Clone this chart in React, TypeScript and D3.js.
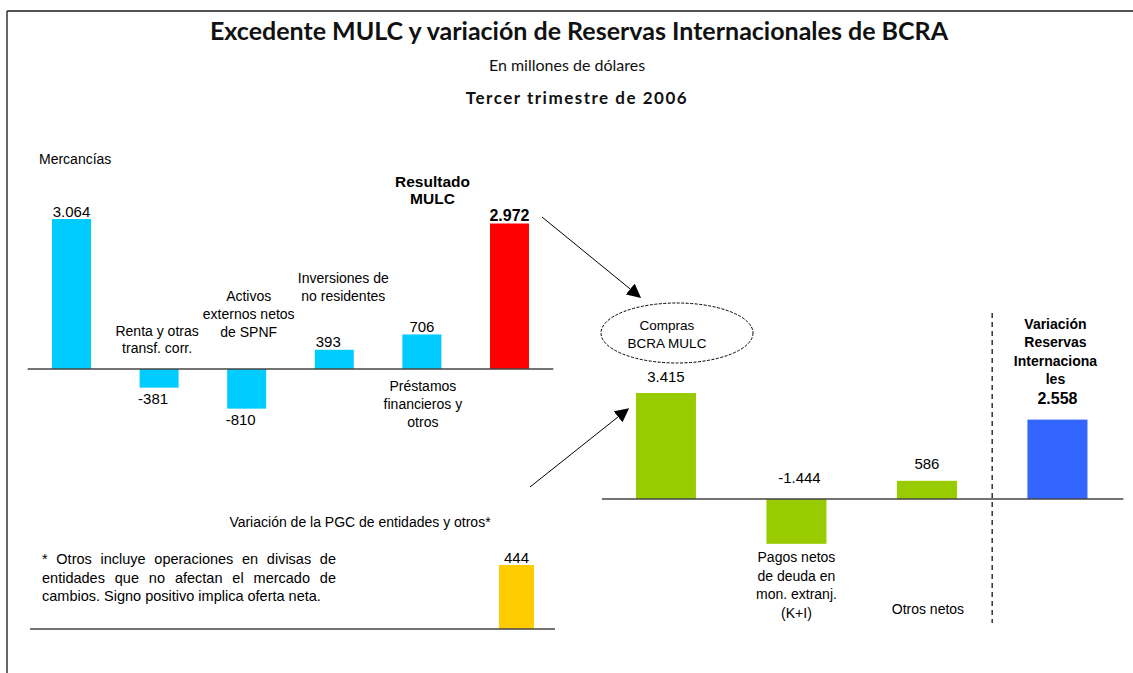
import { useEffect, useRef } from 'react';
import * as d3 from 'd3';

// Panel 1: origen del excedente MULC
const mulcKeys = ['merc', 'renta', 'activos', 'inversiones', 'prestamos', 'resultado'];
const mulcValues = [3064, -381, -810, 393, 706, 2972];
const mulcLabels = ['3.064', '-381', '-810', '393', '706', '2.972'];

// Panel 2: de compras BCRA a variación de reservas
const resKeys = ['compras', 'pagos', 'otros', 'reservas'];
const resValues = [3415, -1444, 586, 2558];
const resLabels = ['3.415', '-1.444', '586', '2.558'];

// Panel 3: PGC de entidades
const pgcKeys = ['pgc'];
const pgcValues = [444];
const pgcLabels = ['444'];

const CYAN = '#00ccff';
const RED = '#ff0000';
const GREEN = '#99cc00';
const BLUE = '#3366ff';
const YELLOW = '#ffcc00';

const SANS = '"Liberation Sans", Arial, sans-serif';
const TITLE_FONT = 'Lato, "Open Sans", sans-serif';

const App = () => {
  const svgRef = useRef(null);
  const width = 1133;
  const height = 673;

  useEffect(() => {
    const svg = d3.select(svgRef.current);
    svg.selectAll('*').remove();

    // frame
    svg.append('line').attr('x1', 7).attr('x2', width).attr('y1', 11).attr('y2', 11)
      .attr('stroke', '#555').attr('stroke-width', 2);
    svg.append('line').attr('x1', 7).attr('x2', 7).attr('y1', 11).attr('y2', height)
      .attr('stroke', '#333').attr('stroke-width', 1.5);

    // titles
    svg.append('text').attr('x', 579).attr('y', 40).attr('text-anchor', 'middle')
      .style('font-family', TITLE_FONT).style('font-size', '25px').style('font-weight', 'bold')
      .attr('fill', '#111')
      .text('Excedente MULC y variación de Reservas Internacionales de BCRA');
    svg.append('text').attr('x', 567).attr('y', 71).attr('text-anchor', 'middle')
      .style('font-family', TITLE_FONT).style('font-size', '16px').attr('fill', '#111')
      .text('En millones de dólares');
    svg.append('text').attr('x', 577).attr('y', 104).attr('text-anchor', 'middle')
      .style('font-family', TITLE_FONT).style('font-size', '17px').style('font-weight', 'bold')
      .style('letter-spacing', '1.5px')
      .attr('fill', '#111')
      .text('Tercer trimestre de 2006');

    const label = (x, y, txt, opts = {}) => {
      const t = svg.append('text')
        .attr('x', x).attr('y', y)
        .attr('text-anchor', opts.anchor || 'middle')
        .attr('dominant-baseline', 'central')
        .style('font-family', SANS)
        .style('font-size', (opts.size || 14) + 'px')
        .style('font-weight', opts.bold ? 'bold' : 'normal')
        .attr('fill', '#000')
        .text(txt);
      if (opts.justify) {
        // spread the words so the line fills the given width
        const w = t.node().getComputedTextLength();
        const gaps = txt.split(' ').length - 1;
        if (gaps > 0) t.style('word-spacing', ((opts.justify - w) / gaps) + 'px');
      }
      return t;
    };
    const lines = (x, y0, dy, arr, opts = {}) =>
      arr.forEach((s, i) => label(x, y0 + i * dy, s, opts));

    // ---------- Panel 1 ----------
    const x1 = d3.scaleBand().domain(mulcKeys).range([27.7, 553.3])
      .paddingInner(0.555).paddingOuter(0.2775);
    const y1 = d3.scaleLinear().domain([0, 3064]).range([369, 219]);
    const c1 = (k) => x1(k) + x1.bandwidth() / 2;

    svg.append('g').selectAll('rect').data(mulcKeys).enter().append('rect')
      .attr('x', (k) => x1(k))
      .attr('width', x1.bandwidth())
      .attr('y', (k, i) => y1(Math.max(0, mulcValues[i])))
      .attr('height', (k, i) => Math.abs(y1(mulcValues[i]) - y1(0)))
      .attr('fill', (k) => (k === 'resultado' ? RED : CYAN));

    svg.append('line').attr('x1', x1.range()[0]).attr('x2', x1.range()[1])
      .attr('y1', y1(0)).attr('y2', y1(0)).attr('stroke', '#444').attr('stroke-width', 1.5);

    mulcKeys.forEach((k, i) => {
      const v = mulcValues[i];
      const bold = k === 'resultado';
      const y = v >= 0 ? y1(v) - 8 : y1(v) + 11;
      label(c1(k) - (v < 0 || k === 'inversiones' ? 6 : 0), y, mulcLabels[i], { size: bold ? 16 : 15, bold });
    });

    label(39, 159, 'Mercancías', { anchor: 'start', size: 14 });
    lines(c1('renta') - 2, 331, 17, ['Renta y otras', 'transf. corr.']);
    lines(c1('activos') + 2, 296, 18, ['Activos', 'externos netos', 'de SPNF']);
    lines(c1('inversiones') + 9, 278, 18, ['Inversiones de', 'no residentes']);
    lines(c1('prestamos') + 1, 386, 18, ['Préstamos', 'financieros y', 'otros']);
    lines(c1('resultado') - 77, 181, 17, ['Resultado', 'MULC'], { bold: true, size: 15.5 });

    // ---------- Panel 2 ----------
    const x2 = d3.scaleBand().domain(resKeys).range([602, 1121.4])
      .paddingInner(0.54).paddingOuter(0.26);
    const y2 = d3.scaleLinear().domain([0, 3415]).range([499, 393]);
    const c2 = (k) => x2(k) + x2.bandwidth() / 2;

    svg.append('g').selectAll('rect').data(resKeys).enter().append('rect')
      .attr('x', (k) => x2(k))
      .attr('width', x2.bandwidth())
      .attr('y', (k, i) => y2(Math.max(0, resValues[i])))
      .attr('height', (k, i) => Math.abs(y2(resValues[i]) - y2(0)))
      .attr('fill', (k) => (k === 'reservas' ? BLUE : GREEN));

    svg.append('line').attr('x1', x2.range()[0]).attr('x2', x2.range()[1] + 2)
      .attr('y1', y2(0)).attr('y2', y2(0)).attr('stroke', '#444').attr('stroke-width', 1.5);

    resKeys.forEach((k, i) => {
      const v = resValues[i];
      const bold = k === 'reservas';
      let y = y2(Math.max(0, v)) - 17;
      if (k === 'reservas') y = y2(v) - 21;
      if (k === 'pagos') y = y2(0) - 22;
      label(c2(k) + (k === 'pagos' ? 3 : 0), y, resLabels[i], { size: bold ? 16 : 15, bold });
    });

    // dashed separator
    const sepX = (x2('otros') + x2.bandwidth() + x2('reservas')) / 2;
    svg.append('line').attr('x1', sepX).attr('x2', sepX).attr('y1', 313).attr('y2', 623)
      .attr('stroke', '#333').attr('stroke-width', 1.5).attr('stroke-dasharray', '5 4');

    lines(c2('reservas') - 2, 324, 18.3, ['Variación', 'Reservas', 'Internaciona', 'les'], { bold: true, size: 14 });
    lines(c2('pagos'), 557, 18.7, ['Pagos netos', 'de deuda en', 'mon. extranj.', '(K+I)']);
    label(c2('otros') + 1, 609, 'Otros netos');

    // ellipse "Compras BCRA MULC"
    svg.append('ellipse').attr('cx', 677).attr('cy', 333).attr('rx', 76).attr('ry', 30)
      .attr('fill', 'none').attr('stroke', '#000').attr('stroke-width', 1)
      .attr('stroke-dasharray', '3 1.5');
    lines(667, 325, 18, ['Compras', 'BCRA MULC'], { size: 13.5 });

    // arrows
    const defs = svg.append('defs');
    defs.append('marker').attr('id', 'arrow').attr('viewBox', '0 0 10 10')
      .attr('refX', 9).attr('refY', 5).attr('markerWidth', 14).attr('markerHeight', 14)
      .attr('markerUnits', 'userSpaceOnUse').attr('orient', 'auto')
      .append('path').attr('d', 'M0,0 L10,5 L0,10 Z').attr('fill', '#000');

    svg.append('line').attr('x1', 542).attr('y1', 217).attr('x2', 640).attr('y2', 297)
      .attr('stroke', '#000').attr('stroke-width', 1).attr('marker-end', 'url(#arrow)');
    svg.append('line').attr('x1', 530).attr('y1', 487).attr('x2', 628).attr('y2', 409)
      .attr('stroke', '#000').attr('stroke-width', 1).attr('marker-end', 'url(#arrow)');

    // ---------- Panel 3 ----------
    const x3 = d3.scaleBand().domain(pgcKeys).range([499, 534]);
    const y3 = d3.scaleLinear().domain([0, 444]).range([629, 565]);

    svg.append('g').selectAll('rect').data(pgcKeys).enter().append('rect')
      .attr('x', (k) => x3(k))
      .attr('width', x3.bandwidth())
      .attr('y', (k, i) => y3(pgcValues[i]))
      .attr('height', (k, i) => y3(0) - y3(pgcValues[i]))
      .attr('fill', YELLOW);

    svg.append('line').attr('x1', 30).attr('x2', 555).attr('y1', y3(0)).attr('y2', y3(0))
      .attr('stroke', '#444').attr('stroke-width', 1.5);

    pgcKeys.forEach((k, i) => {
      label(x3(k) + x3.bandwidth() / 2, y3(pgcValues[i]) - 8, pgcLabels[i], { size: 15 });
    });

    label(360, 522, 'Variación de la PGC de entidades y otros*', { size: 14 });
    label(42, 559, '* Otros incluye operaciones en divisas de', { anchor: 'start', size: 14.5, justify: 294 });
    label(42, 578, 'entidades que no afectan el mercado de', { anchor: 'start', size: 14.5, justify: 294 });
    label(42, 596, 'cambios. Signo positivo implica oferta neta.', { anchor: 'start', size: 14.5 });
  }, []);

  return (
    <svg
      ref={svgRef}
      width={width}
      height={height}
      style={{ position: 'absolute', left: 0, top: 0, background: '#fff' }}
    />
  );
};

export default App;
